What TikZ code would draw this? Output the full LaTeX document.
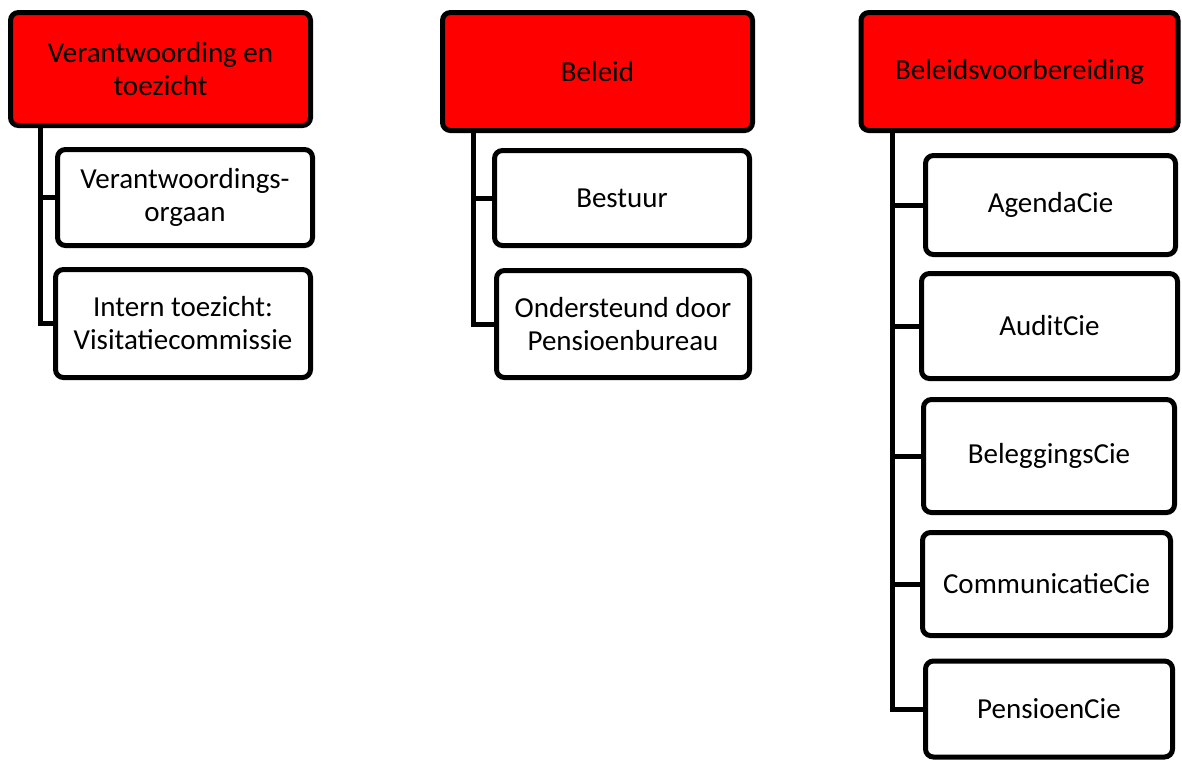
\documentclass[tikz,border=0pt]{standalone}
\usepackage{fontspec}
\setmainfont{Carlito}
\usetikzlibrary{positioning,calc}
\definecolor{orgred}{HTML}{FF0000}
\tikzset{
  headbox/.style={draw=black, fill=orgred, line width=2.5pt, rounded corners=4pt,
    align=center, inner sep=0pt},
  unitbox/.style={draw=black, fill=white, line width=2.5pt, rounded corners=4pt,
    align=center, inner sep=0pt},
  link/.style={line width=2.5pt, line join=miter},
}

\begin{document}
\begin{tikzpicture}[x=0.5pt, y=-0.5pt, font=\fontsize{14.5}{16.5}\selectfont]
  \useasboundingbox (0,0) rectangle (1182,762);
  \clip (0,0) rectangle (1182,762);
  % column 1
  \node[headbox, minimum width=150pt, minimum height=56.5pt] (A) at (160.5,69) {Verantwoording en\\toezicht};
  \node[unitbox, minimum width=127.5pt, minimum height=48pt] (A1) at (185,197.5) {Verantwoordings-\\orgaan};
  \node[unitbox, minimum width=127.5pt, minimum height=54pt] (A2) at (183,323.5) {Intern toezicht:\\Visitatiecommissie};
  \coordinate (Aspine) at (40,126);
  \draw[link] (Aspine) |- (A2.west);
  \draw[link] (Aspine |- A1.west) -- (A1.west);
  % column 2
  \node[headbox, minimum width=155pt, minimum height=59pt] (B) at (597.5,71.5) {Beleid};
  \node[unitbox, minimum width=127.5pt, minimum height=47.5pt] (B1) at (622,198) {Bestuur};
  \node[unitbox, minimum width=126.5pt, minimum height=53.5pt] (B2) at (623,324) {Ondersteund door\\Pensioenbureau};
  \coordinate (Bspine) at (473,129);
  \draw[link] (Bspine) |- (B2.west);
  \draw[link] (Bspine |- B1.west) -- (B1.west);
  % column 3
  \node[headbox, minimum width=158.5pt, minimum height=59pt] (C) at (1019.5,71.5) {Beleidsvoorbereiding};
  \foreach \i/\cx/\cy/\w/\h/\txt in {
      1/1050.5/205/125/49.5/AgendaCie,
      2/1049.5/326/128/52.5/AuditCie,
      3/1049/456/125.5/56.5/BeleggingsCie,
      4/1046.5/584/124/51.5/CommunicatieCie,
      5/1049/709/123.5/48/PensioenCie} {
    \node[unitbox, minimum width=\w pt, minimum height=\h pt] (C\i) at (\cx,\cy) {\txt};
  }
  \coordinate (Cspine) at (892,129);
  \draw[link] (Cspine) |- (C5.west);
  \foreach \i in {1,...,4} {
    \draw[link] (Cspine |- C\i.west) -- (C\i.west);
  }
\end{tikzpicture}
\end{document}
